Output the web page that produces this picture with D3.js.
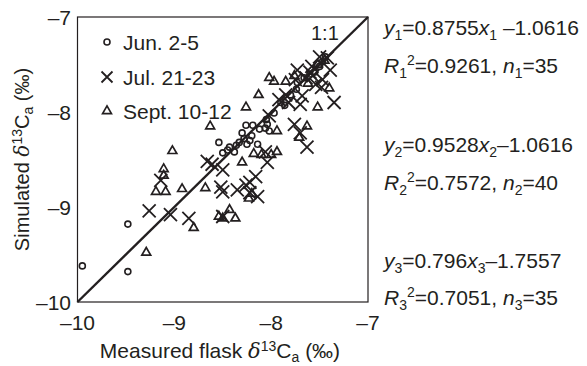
<!DOCTYPE html>
<html>
<head>
<meta charset="utf-8">
<script src="https://cdn.jsdelivr.net/npm/d3@7"></script>
<style>
  body { margin: 0; background: #fff; }
  svg text { font-family: "Liberation Sans", Arial, sans-serif; fill: #231f20; }
</style>
</head>
<body>
<svg id="chart" width="587" height="366"></svg>
<script>
// measured (x) vs simulated (y) d13C, per campaign
const junPoints = [
  [-9.95, -9.62], [-9.48, -9.18], [-9.48, -9.68], [-8.54, -8.32], [-8.50, -8.43],
  [-8.43, -8.37], [-8.38, -8.42], [-8.33, -8.32], [-8.30, -8.22], [-8.28, -8.28],
  [-8.26, -8.14], [-8.25, -8.34], [-8.19, -8.14], [-8.14, -8.34], [-8.20, -8.25],
  [-8.36, -8.35], [-8.22, -8.30], [-8.05, -8.08], [-8.04, -8.13], [-8.02, -8.20],
  [-8.06, -8.17], [-7.97, -8.01], [-7.90, -7.90], [-7.86, -7.93], [-7.80, -7.82],
  [-7.73, -7.69], [-7.74, -7.76], [-7.66, -7.64], [-7.60, -7.60], [-7.55, -7.58],
  [-7.50, -7.52], [-7.44, -7.42], [-7.47, -7.47], [-8.45, -8.40], [-8.12, -8.18]
];
const julPoints = [
  [-9.26, -9.04], [-9.04, -9.08], [-8.85, -9.12], [-9.14, -8.72], [-8.61, -8.55],
  [-8.50, -8.61], [-8.52, -8.79], [-8.50, -8.84], [-8.35, -8.82], [-8.26, -8.77],
  [-8.22, -8.74], [-8.16, -8.68], [-8.14, -8.89], [-8.50, -9.10], [-8.06, -8.42],
  [-8.04, -8.53], [-8.02, -8.04], [-7.92, -7.87], [-7.82, -7.90], [-7.76, -8.13],
  [-7.70, -8.22], [-7.63, -8.37], [-7.70, -7.92], [-7.68, -7.83], [-7.73, -7.56],
  [-7.64, -7.64], [-7.54, -7.71], [-7.50, -7.42], [-7.39, -7.56], [-7.35, -7.90],
  [-7.57, -7.62], [-7.60, -7.58], [-7.47, -7.66], [-7.42, -7.43], [-7.75, -7.66],
  [-7.85, -7.82], [-8.22, -8.85], [-8.66, -8.52], [-7.48, -7.74], [-7.58, -7.52]
];
const septPoints = [
  [-9.29, -9.48], [-9.11, -8.60], [-9.11, -8.67], [-9.19, -8.84], [-9.09, -8.84],
  [-9.02, -8.41], [-8.92, -8.81], [-8.80, -9.22], [-8.68, -8.80], [-8.63, -8.15],
  [-8.54, -9.10], [-8.43, -9.03], [-8.37, -9.12], [-8.30, -8.53], [-8.26, -7.95],
  [-8.23, -8.91], [-8.18, -8.44], [-8.13, -7.82], [-8.02, -7.64], [-7.97, -7.68],
  [-7.94, -8.20], [-7.94, -8.42], [-7.85, -7.68], [-7.71, -8.27], [-7.63, -8.15],
  [-7.52, -7.95], [-7.40, -7.75], [-7.52, -7.50], [-8.20, -8.86], [-8.10, -8.45],
  [-8.50, -9.12], [-7.76, -7.62], [-7.62, -7.70], [-8.00, -8.45], [-7.45, -7.46]
];
const xTicks = [-10, -9, -8, -7];
const yTicks = [-10, -9, -8, -7];
const legendLabels = ["Jun. 2-5", "Jul. 21-23", "Sept. 10-12"];
const eqLines = [
  {v: "y", s: "1", rest: "=0.8755", v2: "x", s2: "1", tail: " \u20131.0616"},
  {v: "R", s: "1", sup: "2", rest: "=0.9261, ", v2: "n", s2: "1", tail: "=35"},
  {v: "y", s: "2", rest: "=0.9528", v2: "x", s2: "2", tail: "\u20131.0616"},
  {v: "R", s: "2", sup: "2", rest: "=0.7572, ", v2: "n", s2: "2", tail: "=40"},
  {v: "y", s: "3", rest: "=0.796", v2: "x", s2: "3", tail: "\u20131.7557"},
  {v: "R", s: "3", sup: "2", rest: "=0.7051, ", v2: "n", s2: "3", tail: "=35"}
];
const eqY = [35, 73, 152, 190, 268, 305];

const svg = d3.select('#chart');
const m = {left: 77.5, right: 368, top: 17, bottom: 302};
const x = d3.scaleLinear().domain([-10, -7]).range([m.left, m.right]);
const y = d3.scaleLinear().domain([-10, -7]).range([m.bottom, m.top]);
const ink = '#231f20';
const fs = 21, sub = 14;
const minus = v => String(v).replace('-', '\u2013');

// frame
svg.append('rect')
  .attr('x', m.left).attr('y', m.top)
  .attr('width', m.right - m.left).attr('height', m.bottom - m.top)
  .attr('fill', 'none').attr('stroke', ink).attr('stroke-width', 1.2);

// tick labels
svg.append('g').selectAll('text').data(xTicks).enter().append('text')
  .attr('x', d => x(d)).attr('y', 330)
  .attr('text-anchor', 'middle').attr('font-size', fs)
  .text(minus);
svg.append('g').selectAll('text').data(yTicks).enter().append('text')
  .attr('x', 71).attr('y', d => y(d) + 7.5)
  .attr('text-anchor', 'end').attr('font-size', fs)
  .text(minus);

// axis titles
function deltaTitle(t, pre) {
  t.append('tspan').text(pre);
  t.append('tspan').attr('font-family', 'DejaVu Serif, serif').attr('font-style', 'italic').text('\u03b4');
  t.append('tspan').attr('dy', -7).attr('font-size', sub).text('13');
  t.append('tspan').attr('dy', 7).text('C');
  t.append('tspan').attr('dy', 4).attr('font-size', sub).text('a');
  t.append('tspan').attr('dy', -4).text(' (\u2030)');
}
deltaTitle(svg.append('text').attr('x', 220).attr('y', 358)
  .attr('text-anchor', 'middle').attr('font-size', fs), 'Measured flask ');
deltaTitle(svg.append('text')
  .attr('transform', `translate(29,${(m.top + m.bottom) / 2}) rotate(-90)`)
  .attr('text-anchor', 'middle').attr('font-size', 20), 'Simulated ');

// 1:1 line
svg.append('line')
  .attr('x1', x(-10)).attr('y1', y(-10)).attr('x2', x(-7)).attr('y2', y(-7))
  .attr('stroke', ink).attr('stroke-width', 2.4);
svg.append('text').attr('x', 311).attr('y', 40).attr('font-size', 20).text('1:1');

// markers
const drawCircle = (g, px, py) => g.append('circle').attr('cx', px).attr('cy', py).attr('r', 3)
  .attr('fill', 'none').attr('stroke', ink).attr('stroke-width', 1.6);
const drawCross = (g, px, py, h = 6.5) => g.append('path')
  .attr('d', `M${px - h},${py - h}L${px + h},${py + h}M${px - h},${py + h}L${px + h},${py - h}`)
  .attr('stroke', ink).attr('stroke-width', 1.8).attr('fill', 'none');
const drawTri = (g, px, py) => g.append('path')
  .attr('d', d3.symbol(d3.symbolTriangle, 34)())
  .attr('transform', `translate(${px},${py})`)
  .attr('fill', 'none').attr('stroke', ink).attr('stroke-width', 1.7);

const gm = svg.append('g');
septPoints.forEach(d => drawTri(gm, x(d[0]), y(d[1])));
julPoints.forEach(d => drawCross(gm, x(d[0]), y(d[1])));
junPoints.forEach(d => drawCircle(gm, x(d[0]), y(d[1])));

// legend
const legY = [42, 77, 111];
legendLabels.forEach((lab, i) => {
  if (i === 0) drawCircle(svg, 107, legY[i]);
  else if (i === 1) drawCross(svg, 107, legY[i], 5.5);
  else drawTri(svg, 107, legY[i]);
  svg.append('text').attr('x', 123).attr('y', legY[i] + 7.5).attr('font-size', fs).text(lab);
});

// regression equations
eqLines.forEach((e, i) => {
  const t = svg.append('text').attr('x', 384).attr('y', eqY[i]).attr('font-size', fs);
  t.append('tspan').attr('font-style', 'italic').text(e.v);
  t.append('tspan').attr('dy', 5).attr('font-size', sub).text(e.s);
  if (e.sup) {
    t.append('tspan').attr('dy', -13).attr('font-size', sub).text(e.sup);
    t.append('tspan').attr('dy', 8).text(e.rest);
  } else {
    t.append('tspan').attr('dy', -5).text(e.rest);
  }
  t.append('tspan').attr('font-style', 'italic').text(e.v2);
  t.append('tspan').attr('dy', 5).attr('font-size', sub).text(e.s2);
  t.append('tspan').attr('dy', -5).text(e.tail);
});
</script>
</body>
</html>
